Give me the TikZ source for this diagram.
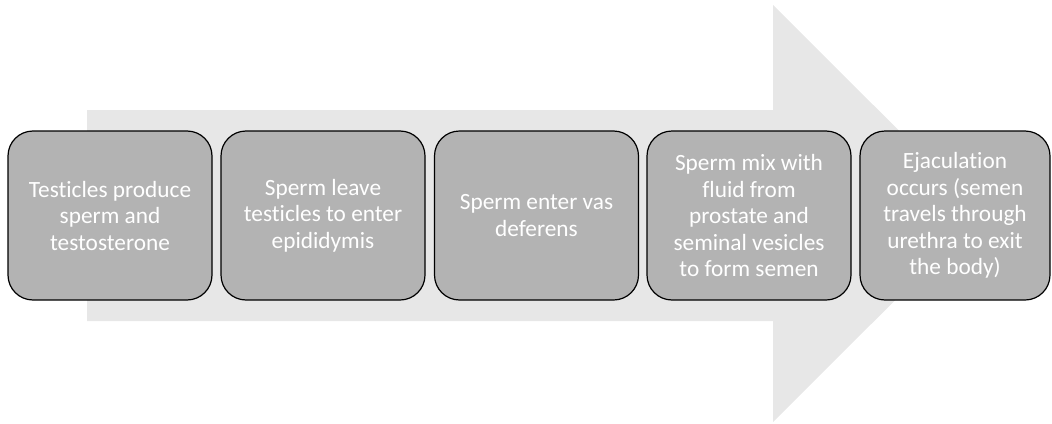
\documentclass[tikz,border=0pt]{standalone}
\usepackage{fontspec}
\setmainfont[Ligatures=NoCommon]{Carlito}
\definecolor{arrowgray}{HTML}{E7E7E7}
\definecolor{boxgray}{HTML}{B3B3B3}
\begin{document}
\begin{tikzpicture}[x=1pt,y=-1pt,
  stepbox/.style={draw=black, line width=1.2pt, fill=boxgray, rounded corners=25pt,
    minimum height=169pt, inner sep=2pt, align=center, text=white,
    font=\fontsize{23.3}{26.5}\selectfont}]
\useasboundingbox (0,0) rectangle (1052,423);
\fill[arrowgray] (87,110) -- (773,110) -- (773,5) -- (982,213.5) -- (773,422) -- (773,321) -- (87,321) -- cycle;
\node[stepbox, minimum width=204pt] (s1) at (110,215.5) {Testicles produce\\sperm and\\testosterone};
\node[stepbox, minimum width=204pt] (s2) at (323,215.5) {Sperm leave\\testicles to enter\\epididymis};
\node[stepbox, minimum width=204pt] (s3) at (536.5,215.5) {Sperm enter vas\\deferens};
\node[stepbox, minimum width=204pt] (s4) at (749,215.5) {Sperm mix with\\fluid from\\prostate and\\seminal vesicles\\to form semen};
\node[stepbox, minimum width=190pt] (s5) at (955,215.5) {Ejaculation\\occurs (semen\\travels through\\urethra to exit\\the body)};
\end{tikzpicture}
\end{document}
